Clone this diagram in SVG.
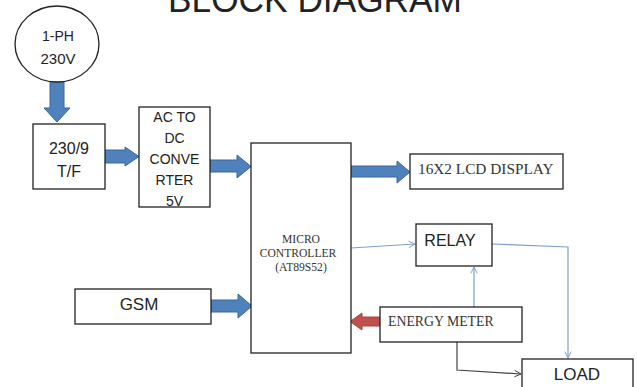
<svg xmlns="http://www.w3.org/2000/svg" width="637" height="387" viewBox="0 0 637 387">
<style>
.box{fill:#fff;stroke:#222;stroke-width:1.3}
.sans{font-family:"Liberation Sans","DejaVu Sans",sans-serif;fill:#222;text-anchor:middle}
.serif{font-family:"Liberation Serif","DejaVu Serif",serif;fill:#333}
.blk{fill:#4f81bd;stroke:#3a6699;stroke-width:1}
.thin{fill:none;stroke:#7f9fc8;stroke-width:1.2}
</style>
<defs>
<marker id="ob" viewBox="0 0 10 10" refX="9" refY="5" markerWidth="8" markerHeight="8" orient="auto" markerUnits="userSpaceOnUse">
<path d="M1,1 L9,5 L1,9" fill="none" stroke="#7f9fc8" stroke-width="1.2"/>
</marker>
<marker id="og" viewBox="0 0 10 10" refX="9" refY="5" markerWidth="8" markerHeight="8" orient="auto" markerUnits="userSpaceOnUse">
<path d="M1,1 L9,5 L1,9" fill="none" stroke="#444" stroke-width="1.2"/>
</marker>
</defs>
<rect width="637" height="387" fill="#fff"/>
<text x="315" y="12" class="sans" font-size="36" textLength="294" lengthAdjust="spacingAndGlyphs" fill="#111">BLOCK DIAGRAM</text>

<g id="connectors">
<polygon class="blk" points="50,82 64,82 64,108 70,108 57,122 44,108 50,108"/>
<polygon class="blk" points="105,150 125,150 125,147 139,156.5 125,166 125,163 105,163"/>
<polygon class="blk" points="210,160 237,160 237,155 251,166.5 237,178 237,172 210,172"/>
<polygon class="blk" points="351,166 397,166 397,161 410,172 397,183 397,177 351,177"/>
<polygon class="blk" points="211,300 238,300 238,294 252,306 238,318 238,312 211,312"/>
<polygon fill="#c0504d" stroke="#a94441" stroke-width="1" points="380,317 362,317 362,313 350,321.5 362,330 362,326 380,326"/>
<path class="thin" d="M351,248 L415,244" marker-end="url(#ob)"/>
<path class="thin" d="M492,244 L568,247 L568,358" marker-end="url(#ob)"/>
<path class="thin" d="M474,307 L474,267" marker-end="url(#ob)"/>
<path fill="none" stroke="#444" stroke-width="1.2" d="M457,342 L457,370 L521,374" marker-end="url(#og)"/>
</g>

<g id="source">
<ellipse cx="57" cy="44" rx="42" ry="38" fill="#fff" stroke="#222" stroke-width="1.3"/>
<text x="58" y="41" class="sans" font-size="14">1-PH</text>
<text x="58" y="64" class="sans" font-size="15">230V</text>
</g>
<g id="transformer">
<rect class="box" x="33" y="124" width="72" height="65"/>
<text x="69" y="154" class="sans" font-size="16">230/9</text>
<text x="69" y="177" class="sans" font-size="16">T/F</text>
</g>
<g id="converter">
<rect class="box" x="139" y="107" width="71" height="100"/>
<text x="174.5" y="122" class="sans" font-size="14">AC TO</text>
<text x="174.5" y="143" class="sans" font-size="14">DC</text>
<text x="174.5" y="164" class="sans" font-size="14">CONVE</text>
<text x="174.5" y="185" class="sans" font-size="14">RTER</text>
<text x="174.5" y="206" class="sans" font-size="14">5V</text>
</g>
<g id="micro">
<rect class="box" x="251" y="143" width="100" height="210"/>
<text x="301" y="243" class="serif" font-size="11.6" text-anchor="middle">MICRO</text>
<text x="298" y="256.5" class="serif" font-size="11.6" text-anchor="middle">CONTROLLER</text>
<text x="301" y="271" class="serif" font-size="11.6" text-anchor="middle">(AT89S52)</text>
</g>
<g id="lcd">
<rect class="box" x="410" y="154" width="153" height="35"/>
<text x="418" y="174" class="serif" font-size="15.3">16X2 LCD DISPLAY</text>
</g>
<g id="relay">
<rect class="box" x="416" y="224" width="76" height="42"/>
<text x="450" y="246" class="sans" font-size="16">RELAY</text>
</g>
<g id="gsm">
<rect class="box" x="75" y="289" width="136" height="35"/>
<text x="139" y="310" class="sans" font-size="17">GSM</text>
</g>
<g id="energy">
<rect class="box" x="380" y="307" width="142" height="35"/>
<text x="388" y="325.5" class="serif" font-size="13.8">ENERGY METER</text>
</g>
<g id="load">
<rect class="box" x="522" y="359" width="111" height="40"/>
<text x="577" y="380" class="sans" font-size="17">LOAD</text>
</g>
</svg>
